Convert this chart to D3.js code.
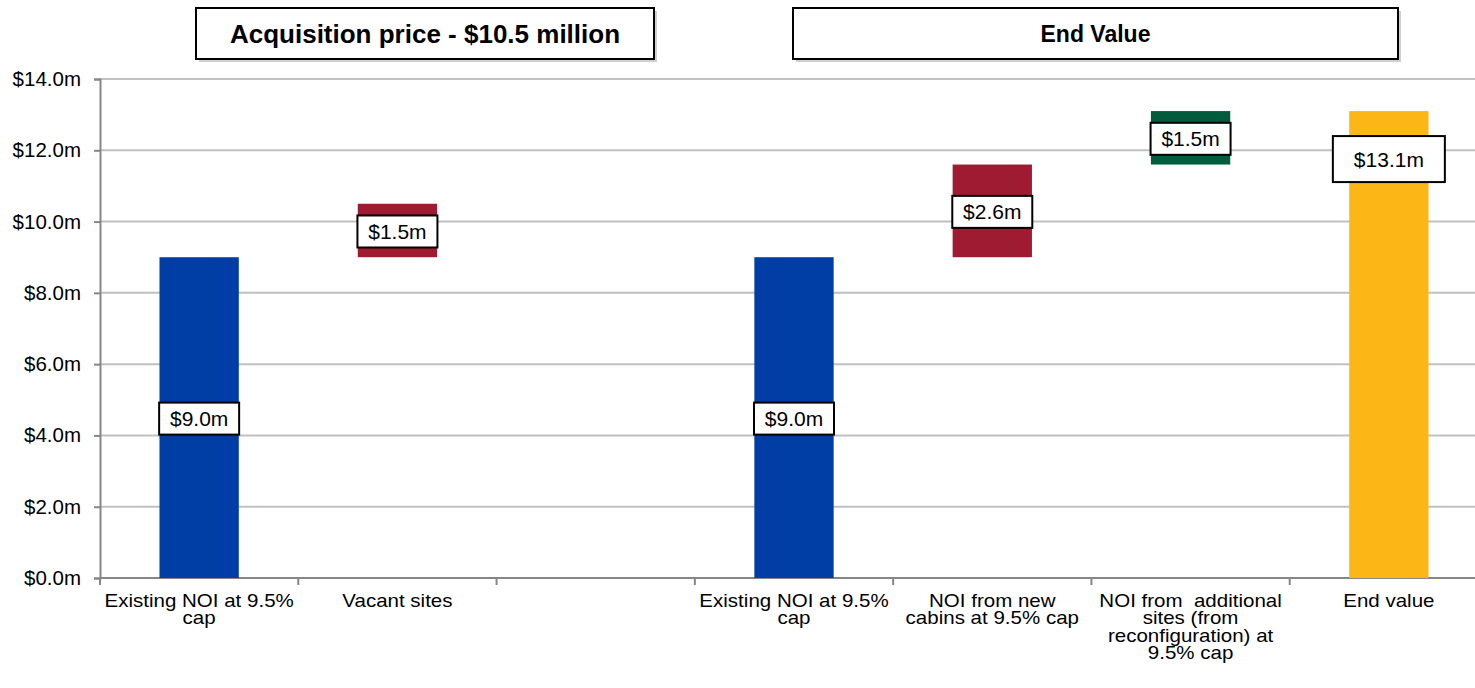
<!DOCTYPE html>
<html>
<head>
<meta charset="utf-8">
<script src="https://cdn.jsdelivr.net/npm/d3@7"></script>
<style>
  body { margin: 0; background: #fff; }
  text { font-family: "Liberation Sans", Arial, sans-serif; fill: #000; }
</style>
</head>
<body>
<svg id="chart"></svg>
<script>
// category tick labels, already broken into lines as in the original
const labelLines = [
    ["Existing NOI at 9.5%", "cap"],
    ["Vacant sites"],
    [],
    ["Existing NOI at 9.5%", "cap"],
    ["NOI from new", "cabins at 9.5% cap"],
    ["NOI from  additional", "sites (from", "reconfiguration) at", "9.5% cap"],
    ["End value"]
]
// start = bar from zero, step = floating bar on running total, total = bar from zero
const steps = ["start", "step", "none", "start", "step", "step", "total"]
const values = [9.0, 1.5, null, 9.0, 2.6, 1.5, 13.1]
const valueLabels = ["$9.0m", "$1.5m", "", "$9.0m", "$2.6m", "$1.5m", "$13.1m"]
const yTicks = [0, 2, 4, 6, 8, 10, 12, 14]
const titles = ["Acquisition price - $10.5 million", "End Value"]

const barColors = ["#003da5", "#9e1b32", null, "#003da5", "#9e1b32", "#005c3c", "#fcb716"]

const width = 1475
const height = 688
const margin = { left: 100, top: 79, bottom: 110 }
const plotRight = 1488

const svg = d3.select("#chart")
    .attr("width", width)
    .attr("height", height)

svg.append("rect")
    .attr("width", width)
    .attr("height", height)
    .attr("fill", "#fff")

// running totals for the waterfall
let running = 0
const bars = values.map((v, i) => {
    let base = 0
    if (steps[i] === "start") { base = 0; running = v }
    else if (steps[i] === "step") { base = running; running += v }
    else if (steps[i] === "total") { base = 0 }
    return { i, v, base, top: base + (v || 0), kind: steps[i] }
})

const x = d3.scaleBand()
    .domain(d3.range(values.length))
    .range([margin.left, plotRight])
    .paddingInner(0.6)
    .paddingOuter(0.3)

const y = d3.scaleLinear()
    .domain([0, 14])
    .range([578, margin.top])

// gridlines
svg.append("g")
    .selectAll("line")
    .data(yTicks.filter(d => d > 0))
    .join("line")
    .attr("x1", margin.left)
    .attr("x2", plotRight)
    .attr("y1", d => y(d))
    .attr("y2", d => y(d))
    .attr("stroke", "#c0c0c0")
    .attr("stroke-width", 2)

// y axis
const yAxis = svg.append("g")
    .attr("transform", "translate(" + margin.left + ",0)")
    .call(d3.axisLeft(y).tickValues(yTicks).tickSize(6).tickPadding(13)
        .tickFormat(d => d3.format("$.1f")(d) + "m"))
yAxis.select(".domain").attr("stroke", "#868686").attr("stroke-width", 2)
yAxis.selectAll(".tick line").attr("stroke", "#868686").attr("stroke-width", 2)
yAxis.selectAll(".tick text")
    .style("font-size", "20.5px")
    .attr("fill", "#000")

// x axis: line plus ticks on the band boundaries
const step = x.step()
const xAxis = svg.append("g")
xAxis.append("line")
    .attr("x1", margin.left)
    .attr("x2", plotRight)
    .attr("y1", y(0))
    .attr("y2", y(0))
    .attr("stroke", "#868686")
    .attr("stroke-width", 2)
xAxis.selectAll(".xtick")
    .data(d3.range(values.length + 1))
    .join("line")
    .attr("class", "xtick")
    .attr("x1", d => margin.left + d * step)
    .attr("x2", d => margin.left + d * step)
    .attr("y1", y(0))
    .attr("y2", y(0) + 7)
    .attr("stroke", "#868686")
    .attr("stroke-width", 2)

// the original's category text is set tight and a little wide
const catLabels = xAxis.selectAll(".cat")
    .data(labelLines)
    .join("text")
    .attr("class", "cat")
    .attr("text-anchor", "middle")
    .style("font-size", "18px")
    .style("white-space", "pre")
    .attr("transform", (d, i) => "translate(" + (x(i) + x.bandwidth() / 2) + "," + (y(0) + 29) + ") scale(1.14,1)")
catLabels.selectAll("tspan")
    .data(d => d)
    .join("tspan")
    .attr("x", 0)
    .attr("y", (d, j) => j * 17.5)
    .text(d => d)

// bars
const drawn = bars.filter(d => d.v != null)
svg.append("g")
    .selectAll("rect")
    .data(drawn)
    .join("rect")
    .attr("x", d => x(d.i))
    .attr("width", x.bandwidth())
    .attr("y", d => y(d.top))
    .attr("height", d => y(d.base) - y(d.top))
    .attr("fill", d => barColors[d.i])

// value labels in white boxes
const labels = svg.append("g")
    .selectAll("g")
    .data(drawn)
    .join("g")
    .attr("transform", d => {
        const cx = x(d.i) + x.bandwidth() / 2
        const cy = d.kind === "total" ? y(d.top) + 48 : y((d.base + d.top) / 2) + 1
        return "translate(" + cx + "," + cy + ")"
    })
labels.append("rect")
    .attr("x", d => d.kind === "total" ? -56 : -40)
    .attr("y", d => d.kind === "total" ? -23 : -16)
    .attr("width", d => d.kind === "total" ? 112 : 80)
    .attr("height", d => d.kind === "total" ? 46 : 32)
    .attr("fill", "#fff")
    .attr("stroke", "#000")
    .attr("stroke-width", 2)
labels.append("text")
    .attr("text-anchor", "middle")
    .attr("dy", "0.36em")
    .style("font-size", "21px")
    .text(d => valueLabels[d.i])

// title boxes above the two groups
const titleBoxes = [
    { x: 196, w: 458, size: 26 },
    { x: 793, w: 605, size: 23 }
]
const tb = svg.append("g")
    .selectAll("g")
    .data(titleBoxes)
    .join("g")
    .attr("transform", d => "translate(" + d.x + ",8)")
tb.append("rect")
    .attr("x", 3)
    .attr("y", 3)
    .attr("width", d => d.w)
    .attr("height", 51)
    .attr("fill", "#d0d0d0")
tb.append("rect")
    .attr("width", d => d.w)
    .attr("height", 51)
    .attr("fill", "#fff")
    .attr("stroke", "#000")
    .attr("stroke-width", 2)
tb.append("text")
    .attr("x", d => d.w / 2)
    .attr("y", 26)
    .attr("dy", "0.36em")
    .attr("text-anchor", "middle")
    .style("font-size", d => d.size + "px")
    .style("font-weight", "bold")
    .text((d, i) => titles[i])
</script>
</body>
</html>
